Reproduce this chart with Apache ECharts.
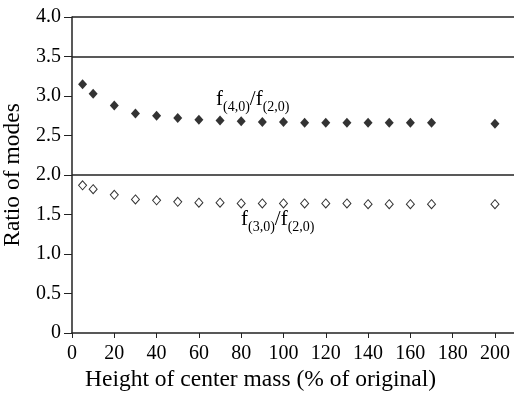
<!DOCTYPE html>
<html>
<head>
<meta charset="utf-8">
<script src="https://cdn.jsdelivr.net/npm/echarts@6/dist/echarts.min.js"></script>
<style>
    html, body { margin: 0; padding: 0; background: #fff; }
    #chart { width: 514px; height: 400px; }
</style>
</head>
<body>
<div id="chart"></div>
<script>
    // height of center mass (% of original)
    var heights = [5, 10, 20, 30, 40, 50, 60, 70, 80, 90, 100, 110, 120, 130, 140, 150, 160, 170, 200];
    // f(4,0)/f(2,0), filled diamonds
    var ratio40 = [3.15, 3.03, 2.88, 2.78, 2.75, 2.72, 2.70, 2.69, 2.68, 2.67, 2.67, 2.66, 2.66, 2.66, 2.66, 2.66, 2.66, 2.66, 2.65];
    // f(3,0)/f(2,0), open diamonds
    var ratio30 = [1.87, 1.82, 1.75, 1.69, 1.68, 1.66, 1.65, 1.65, 1.64, 1.64, 1.64, 1.64, 1.64, 1.64, 1.63, 1.63, 1.63, 1.63, 1.63];
    // horizontal reference lines
    var refLines = [2.0, 3.5, 4.0];

    var serif = '"Liberation Serif", "DejaVu Serif", serif';

    function pairs(xs, ys) {
        var out = [];
        for (var i = 0; i < xs.length; i++) {
            out.push([xs[i], ys[i]]);
        }
        return out;
    }

    var chart = echarts.init(document.getElementById('chart'));

    var labelRich = {
        f: {fontFamily: serif, fontSize: 21, color: '#000', lineHeight: 25, verticalAlign: 'top'},
        s: {fontFamily: serif, fontSize: 14, color: '#000', lineHeight: 15, verticalAlign: 'bottom'}
    };

    chart.setOption({
        animation: false,
        grid: {left: 72, top: 17, right: 0, bottom: 67, outerBoundsMode: 'none'},
        xAxis: {
            type: 'value',
            min: 0,
            max: 209,
            interval: 20,
            axisLine: {show: true, lineStyle: {color: '#222', width: 1.5}},
            axisTick: {show: true, length: 5, lineStyle: {color: '#222'}},
            axisLabel: {
                margin: 11,
                showMaxLabel: false,
                fontFamily: serif,
                fontSize: 20,
                color: '#000'
            },
            splitLine: {show: false}
        },
        yAxis: {
            type: 'value',
            min: 0,
            max: 4,
            interval: 0.5,
            name: 'Ratio of modes',
            nameLocation: 'middle',
            nameGap: 46,
            nameTextStyle: {fontFamily: serif, fontSize: 23.5, color: '#000'},
            axisLine: {show: true, lineStyle: {color: '#222', width: 1.5}},
            axisTick: {show: true, length: 8, lineStyle: {color: '#222'}},
            axisLabel: {
                margin: 11,
                fontFamily: serif,
                fontSize: 20,
                color: '#000',
                formatter: function (v) {
                    return v === 0 ? '0' : v.toFixed(1);
                }
            },
            splitLine: {show: false}
        },
        graphic: [
            {
                type: 'text',
                left: 85,
                top: 368,
                style: {
                    text: 'Height of center mass (% of original)',
                    font: '23.5px ' + serif,
                    fill: '#000'
                }
            },
            {
                type: 'text',
                left: 216,
                top: 89,
                style: {
                    text: '{f|f}{s|(4,0)}{f|/f}{s|(2,0)}',
                    rich: labelRich
                }
            },
            {
                type: 'text',
                left: 241,
                top: 209,
                style: {
                    text: '{f|f}{s|(3,0)}{f|/f}{s|(2,0)}',
                    rich: labelRich
                }
            }
        ],
        series: [
            {
                name: 'f(4,0)/f(2,0)',
                type: 'scatter',
                symbol: 'diamond',
                symbolSize: [9, 10],
                itemStyle: {color: '#000'},
                data: pairs(heights, ratio40),
                markLine: {
                    silent: true,
                    symbol: 'none',
                    label: {show: false},
                    lineStyle: {color: '#222', width: 1.5, type: 'solid'},
                    data: refLines.map(function (v) { return {yAxis: v}; })
                }
            },
            {
                name: 'f(3,0)/f(2,0)',
                type: 'scatter',
                symbol: 'diamond',
                symbolSize: [8, 9],
                itemStyle: {color: '#fff', borderColor: '#000', borderWidth: 1},
                data: pairs(heights, ratio30)
            }
        ]
    });
</script>
</body>
</html>
